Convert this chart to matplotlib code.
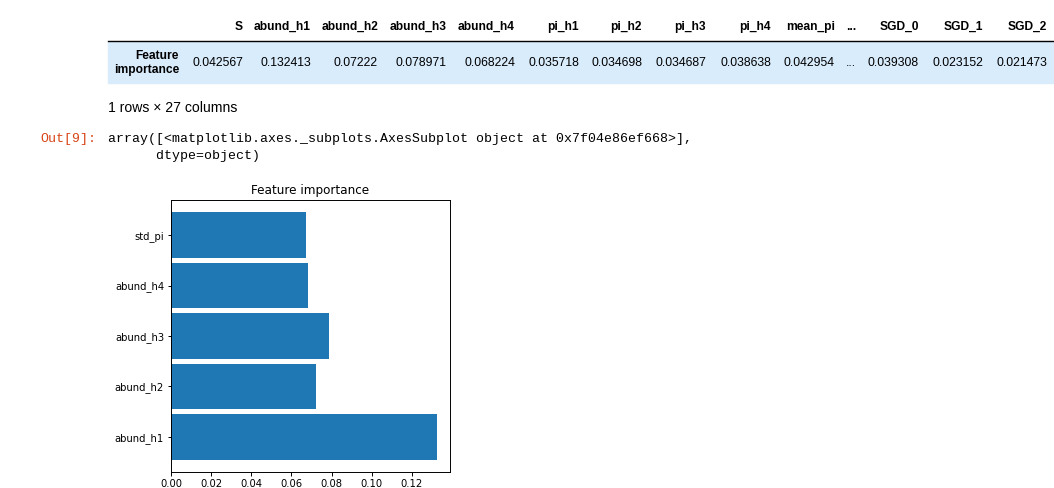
import numpy as np
import matplotlib.pyplot as plt

# table data (1 row x 27 columns, truncated display)
col_names = ['S', 'abund_h1', 'abund_h2', 'abund_h3', 'abund_h4', 'pi_h1', 'pi_h2',
             'pi_h3', 'pi_h4', 'mean_pi', '...', 'SGD_0', 'SGD_1', 'SGD_2']
col_values = ['0.042567', '0.132413', '0.07222', '0.078971', '0.068224', '0.035718',
              '0.034698', '0.034687', '0.038638', '0.042954', '...', '0.039308',
              '0.023152', '0.021473']

# bar chart data
features = ['abund_h1', 'abund_h2', 'abund_h3', 'abund_h4', 'std_pi']
importance = [0.132413, 0.07222, 0.078971, 0.068224, 0.0672]

W, H = 1054, 488
fig = plt.figure(figsize=(W / 100, H / 100), dpi=100)


def fx(x):
    return x / W


def fy(y):
    return 1 - y / H


def pt(px):
    # pixel size -> points at 100 dpi
    return px * 0.72


# --- table part ---
col_right = [243, 311, 378, 447, 515, 579, 642, 706, 771, 835, 856, 919, 983, 1047]
sans = ['Liberation Sans', 'DejaVu Sans']
mono = ['Liberation Mono', 'DejaVu Sans Mono']

fig.patches.append(plt.Rectangle((fx(108), fy(83)), fx(1054) - fx(108), fy(42) - fy(83),
                                 transform=fig.transFigure, color='#d9ecfc', zorder=0))
fig.lines.append(plt.Line2D([fx(108), 1], [fy(41), fy(41)], transform=fig.transFigure,
                            color='black', lw=1.0))

for name, val, xr in zip(col_names, col_values, col_right):
    fig.text(fx(xr), fy(27), name, ha='right', va='center', fontsize=pt(12),
             fontweight='bold', family=sans)
    fig.text(fx(xr), fy(63), val, ha='right', va='center', fontsize=pt(12.3), family=sans)

fig.text(fx(179), fy(56), 'Feature', ha='right', va='center', fontsize=pt(12),
         fontweight='bold', family=sans)
fig.text(fx(179), fy(70), 'importance', ha='right', va='center', fontsize=pt(12),
         fontweight='bold', family=sans)

fig.text(fx(108), fy(108), '1 rows × 27 columns', ha='left', va='center',
         fontsize=pt(14), family=sans)

fig.text(fx(40), fy(139), 'Out[9]:', ha='left', va='center', fontsize=pt(13.3),
         family=mono, color='#D84315')
fig.text(fx(108), fy(139),
         'array([<matplotlib.axes._subplots.AxesSubplot object at 0x7f04e86ef668>],',
         ha='left', va='center', fontsize=pt(13.3), family=mono)
fig.text(fx(108), fy(156), '      dtype=object)', ha='left', va='center',
         fontsize=pt(13.3), family=mono)

# --- bar chart ---
ax = fig.add_axes([fx(171), fy(472), fx(450) - fx(171), fy(200) - fy(472)])
ypos = np.arange(len(features))
ax.barh(ypos, importance, height=0.9, color='#1f77b4')
ax.set_yticks(ypos)
ax.set_yticklabels(features)
ax.set_xlim(0, max(importance) * 1.05)
ax.set_ylim(-0.695, len(features) - 1 + 0.695)
ax.set_xticks([0.00, 0.02, 0.04, 0.06, 0.08, 0.10, 0.12])
ax.set_xticklabels(['0.00', '0.02', '0.04', '0.06', '0.08', '0.10', '0.12'])
ax.tick_params(labelsize=pt(10), length=pt(3.5), width=0.7, pad=pt(3.5))
for s in ax.spines.values():
    s.set_linewidth(0.7)
ax.set_title('Feature importance', fontsize=pt(12), pad=pt(6))

plt.savefig('out.png', dpi=100)
